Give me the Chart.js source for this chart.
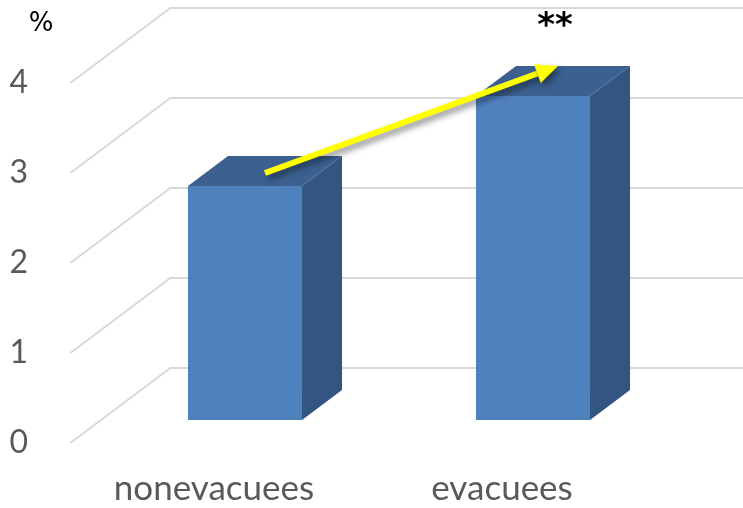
<!DOCTYPE html>
<html>
<head>
<meta charset="utf-8">
<script src="https://cdn.jsdelivr.net/npm/chart.js@4"></script>
<style>
  html, body { margin: 0; padding: 0; background: #fff; }
  #box { width: 743px; height: 508px; }
</style>
</head>
<body>
<div id="box"><canvas id="grafico"></canvas></div>
<script>
// dati
const categorie = ["nonevacuees", "evacuees"];
const valori = [2.6, 3.6];
const tacche = [0, 1, 2, 3, 4];
const unita = "%";
const significativita = "**";

// prospettiva: vettore profondità dal piano frontale al fondo
const PROF = { dx: 100, dy: -75 };
const FRONTE = 0.307;   // quota del piano dei valori rispetto al fronte
const SPESSORE = 0.4;   // profondità delle barre
const FONDO = 1 - FRONTE;

const blu = "#4F81BD";
const bluLato = "#325582";
const bluSopra = "#3C6190";
const griglia = "#D9D9D9";
const grigioTesto = "#595959";

const cubo3d = {
    id: "cubo3d",
    beforeDatasetsDraw(chart) {
        const { ctx, chartArea, scales } = chart;
        const y = scales.y;
        ctx.save();
        ctx.strokeStyle = griglia;
        ctx.lineWidth = 2;
        tacche.forEach(v => {
            const py = y.getPixelForValue(v);
            const x0 = chartArea.left - FRONTE * PROF.dx;
            const y0 = py - FRONTE * PROF.dy;
            const x1 = chartArea.left + FONDO * PROF.dx;
            const y1 = py + FONDO * PROF.dy;
            ctx.beginPath();
            ctx.moveTo(x0, y0);
            ctx.lineTo(x1, y1);
            ctx.lineTo(chart.width, y1);
            ctx.stroke();
        });
        ctx.restore();
    },
    afterDatasetsDraw(chart) {
        const { ctx } = chart;
        const barre = chart.getDatasetMeta(0).data;
        const ox = SPESSORE * PROF.dx;
        const oy = SPESSORE * PROF.dy;
        ctx.save();
        barre.forEach(b => {
            const sx = b.x - b.width / 2;
            const dx = b.x + b.width / 2;
            // faccia laterale
            ctx.fillStyle = bluLato;
            ctx.beginPath();
            ctx.moveTo(dx, b.y);
            ctx.lineTo(dx + ox, b.y + oy);
            ctx.lineTo(dx + ox, b.base + oy);
            ctx.lineTo(dx, b.base);
            ctx.closePath();
            ctx.fill();
            // faccia superiore
            ctx.fillStyle = bluSopra;
            ctx.beginPath();
            ctx.moveTo(sx, b.y);
            ctx.lineTo(sx + ox, b.y + oy);
            ctx.lineTo(dx + ox, b.y + oy);
            ctx.lineTo(dx, b.y);
            ctx.closePath();
            ctx.fill();
        });

        // freccia gialla tra le due barre
        const a = barre[0], b = barre[1];
        const xa = a.x + ox / 2, ya = a.y + oy / 2 + 2;
        const xb = b.x + 25, yb = b.y + oy;
        const ang = Math.atan2(yb - ya, xb - xa);
        const lung = 22, semi = 10;
        const xc = xb - lung * Math.cos(ang), yc = yb - lung * Math.sin(ang);
        ctx.shadowColor = "rgba(0,0,0,0.45)";
        ctx.shadowBlur = 6;
        ctx.shadowOffsetX = 3;
        ctx.shadowOffsetY = 4;
        ctx.strokeStyle = "#FFFF00";
        ctx.fillStyle = "#FFFF00";
        ctx.lineWidth = 6;
        ctx.beginPath();
        ctx.moveTo(xa, ya);
        ctx.lineTo(xc, yc);
        ctx.stroke();
        ctx.beginPath();
        ctx.moveTo(xb, yb);
        ctx.lineTo(xc + semi * Math.sin(ang), yc - semi * Math.cos(ang));
        ctx.lineTo(xc - semi * Math.sin(ang), yc + semi * Math.cos(ang));
        ctx.closePath();
        ctx.fill();
        ctx.restore();

        // asterischi e unità
        ctx.save();
        ctx.fillStyle = "#000";
        ctx.textAlign = "center";
        ctx.textBaseline = "middle";
        ctx.font = "bold 34px 'DejaVu Sans'";
        ctx.fillText(significativita, b.x + 22, b.y - 69);
        ctx.font = "26px 'DejaVu Sans'";
        ctx.fillText(unita, 41, 24);
        ctx.restore();
    }
};

new Chart(document.getElementById("grafico"), {
    type: "bar",
    data: {
        labels: categorie,
        datasets: [{
            data: valori,
            backgroundColor: blu,
            borderWidth: 0,
            barPercentage: 0.396,
            categoryPercentage: 1
        }]
    },
    options: {
        responsive: true,
        maintainAspectRatio: false,
        animation: false,
        layout: { padding: { top: 60, right: 66, left: 0, bottom: 0 } },
        plugins: { legend: { display: false }, tooltip: { enabled: false } },
        scales: {
            x: {
                grid: { display: false },
                border: { display: false },
                ticks: {
                    color: grigioTesto,
                    font: { family: "Lato", size: 35 },
                    labelOffset: -31,
                    padding: 40,
                    maxRotation: 0
                },
                afterFit: s => { s.height = 88; }
            },
            y: {
                min: 0,
                max: 4,
                grid: { display: false },
                border: { display: false },
                ticks: {
                    color: grigioTesto,
                    font: { family: "Lato", size: 32 },
                    labelOffset: 23,
                    padding: 65
                },
                afterBuildTicks: s => { s.ticks = tacche.map(v => ({ value: v })); },
                afterFit: s => {
                    s.width = 101;
                    s.paddingTop = 0;
                    s.paddingBottom = 0;
                }
            }
        }
    },
    plugins: [cubo3d]
});
</script>
</body>
</html>
